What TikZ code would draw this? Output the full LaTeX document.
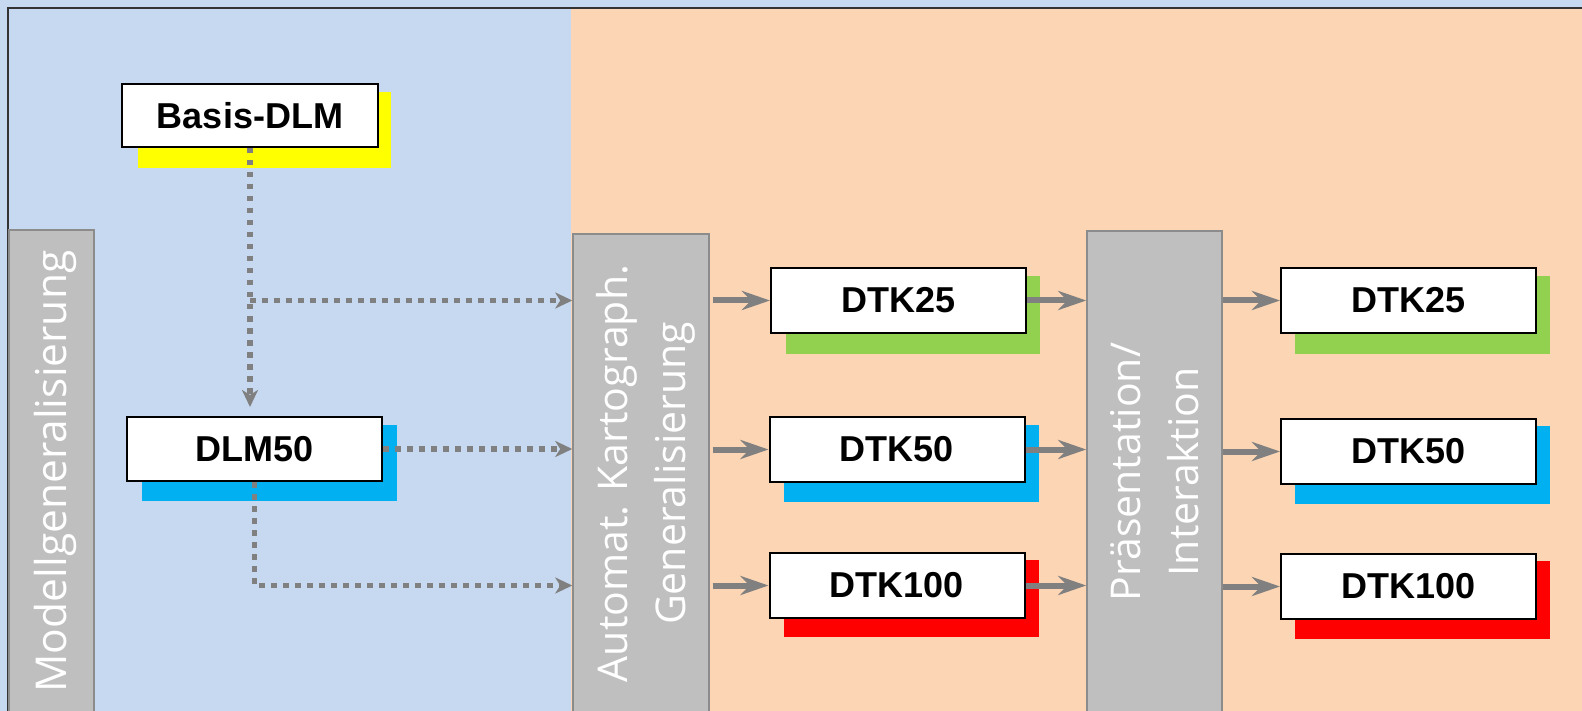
\documentclass[tikz,border=0pt]{standalone}
\usepackage{fontspec}
\setmainfont{Liberation Sans}
\newfontfamily\barfont{Open Sans}
\usetikzlibrary{arrows.meta}
\definecolor{bgblue}{HTML}{C6D9F1}
\definecolor{bgpeach}{HTML}{FCD5B5}
\definecolor{bargray}{HTML}{BFBFBF}
\definecolor{barline}{HTML}{8C8C8C}
\definecolor{arrgray}{HTML}{808080}
\definecolor{shyellow}{HTML}{FFFF00}
\definecolor{shgreen}{HTML}{92D050}
\definecolor{shblue}{HTML}{00B0F0}
\definecolor{shred}{HTML}{FF0000}
\begin{document}
\begin{tikzpicture}[x=1pt,y=-1pt,
 lbl/.style={draw=black, line width=2pt, fill=white, inner sep=0pt, minimum width=255pt, minimum height=64pt, font=\fontsize{36}{40}\selectfont\bfseries},
 bar/.style={draw=barline, line width=1.5pt, fill=bargray, inner sep=0pt},
 bartext/.style={text=white, rotate=90, align=center, inner sep=0pt, font=\barfont\fontsize{41}{58}\selectfont},
 dotarr/.style={draw=arrgray, line width=5.3pt, dash pattern=on 5.5pt off 6.5pt, -{Stealth[length=17pt,width=16pt,inset=5pt]}},
 solarr/.style={draw=arrgray, line width=6pt, -{Stealth[length=28pt,width=19pt,inset=9pt]}}]
\useasboundingbox (0,0) rectangle (1582,711);
% background
\fill[bgblue] (0,0) rectangle (1582,711);
\fill[bgpeach] (571,8) rectangle (1582,711);
\draw[line width=2pt, draw=black!80] (8,711) -- (8,8) -- (1582,8);
% bars
\node[bar, minimum width=85pt, minimum height=483pt] (modell) at (51.5,471.5) {};
\node[bartext, font=\barfont\fontsize{42.5}{58}\selectfont] at ([xshift=4pt]modell.center) {Modellgeneralisierung};
\node[bar, minimum width=136pt, minimum height=479pt] (auto) at (641,473.5) {};
\node[bartext] at ([xshift=5pt]auto.center) {Automat. Kartograph.\\Generalisierung};
\node[bar, minimum width=135pt, minimum height=482pt] (pres) at (1154.5,472) {};
\node[bartext] at (pres.center) {Präsentation/\\Interaktion};
% shadows
\fill[shyellow] (138,92) rectangle (391,168);
\fill[shblue] (142,425) rectangle (397,501);
\fill[shgreen] (786,276) rectangle (1040,354);
\fill[shblue] (784,425) rectangle (1039,502);
\fill[shred] (784,560) rectangle (1039,637);
\fill[shgreen] (1295,276) rectangle (1550,354);
\fill[shblue] (1295,426) rectangle (1550,504);
\fill[shred] (1295,561) rectangle (1550,639);
% boxes
\node[lbl, minimum width=256pt, minimum height=63pt] (basis) at (250,115.5) {Basis-DLM};
\node[lbl] (dlm) at (254.5,449) {DLM50};
\node[lbl, minimum height=65pt] (m25) at (898.5,300.5) {DTK25};
\node[lbl, minimum height=65pt] (m50) at (897,449.5) {DTK50};
\node[lbl, minimum height=65pt] (m100) at (897,585.5) {DTK100};
\node[lbl, minimum height=65pt] (r25) at (1408.5,300.5) {DTK25};
\node[lbl, minimum height=65pt] (r50) at (1408.5,451.5) {DTK50};
\node[lbl, minimum height=65pt] (r100) at (1408.5,586.5) {DTK100};
% dotted connectors
\draw[dotarr, shorten >=9pt] (basis.south) -- (basis.south |- dlm.north);
\draw[dotarr] (basis.south |- m25) -- (auto.west |- m25);
\draw[dotarr] (dlm.east) -- (auto.west |- dlm);
\draw[dotarr] (dlm.south) |- (auto.west |- m100);
% solid connectors
\draw[solarr] ([xshift=3pt]auto.east |- m25) -- (m25.west);
\draw[solarr] ([xshift=3pt]auto.east |- m50) -- (m50.west);
\draw[solarr] ([xshift=3pt]auto.east |- m100) -- (m100.west);
\draw[solarr] (m25.east) -- (pres.west |- m25);
\draw[solarr] (m50.east) -- (pres.west |- m50);
\draw[solarr] (m100.east) -- (pres.west |- m100);
\draw[solarr] (pres.east |- r25) -- (r25.west);
\draw[solarr] (pres.east |- r50) -- (r50.west);
\draw[solarr] (pres.east |- r100) -- (r100.west);
\end{tikzpicture}
\end{document}
